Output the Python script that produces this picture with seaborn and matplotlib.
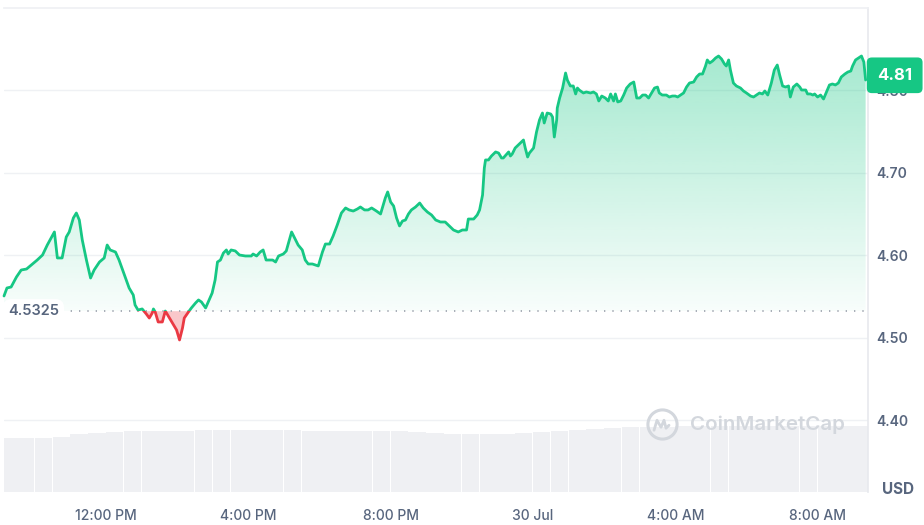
import numpy as np
import pandas as pd
import matplotlib
matplotlib.use("Agg")
import matplotlib.pyplot as plt
import matplotlib.dates as mdates
from matplotlib.path import Path
from matplotlib.patches import Rectangle
import seaborn as sns

# ---------------- data ----------------
start = pd.Timestamp("2024-07-29 09:00")
minutes = [8, 13, 20, 29, 37, 46, 54, 64, 73, 81, 93, 98, 106, 113, 118, 125, 130, 135, 140, 147,
           154, 160, 169, 177, 182, 187, 196, 202, 211, 219, 226, 229, 234, 241, 248, 253, 258, 260, 263, 268,
           275, 280, 287, 294, 299, 304, 309, 312, 319, 324, 331, 336, 341, 348, 354, 359, 364, 368, 373, 378,
           383, 386, 391, 398, 405, 415, 425, 428, 434, 440, 445, 450, 461, 466, 471, 479, 484, 493, 498, 504,
           511, 516, 521, 528, 533, 538, 545, 550, 557, 563, 570, 577, 584, 590, 597, 604, 609, 616, 622, 628,
           636, 643, 651, 655, 660, 665, 670, 675, 680, 685, 690, 695, 702, 709, 715, 722, 729, 736, 744, 752,
           759, 766, 774, 781, 788, 791, 800, 806, 810, 815, 818, 820, 825, 830, 837, 842, 847, 850, 859, 862,
           865, 870, 877, 884, 887, 891, 894, 901, 906, 911, 916, 919, 924, 930, 933, 936, 940, 941, 945, 950,
           955, 958, 963, 968, 972, 975, 978, 985, 990, 997, 1002, 1007, 1011, 1016, 1022, 1027, 1031, 1036, 1039, 1043,
           1048, 1053, 1058, 1064, 1070, 1075, 1080, 1085, 1090, 1095, 1100, 1105, 1110, 1113, 1118, 1125, 1130, 1135, 1140, 1144,
           1149, 1154, 1159, 1164, 1171, 1176, 1181, 1186, 1191, 1194, 1198, 1203, 1208, 1213, 1218, 1223, 1226, 1230, 1233, 1238,
           1243, 1250, 1255, 1260, 1267, 1272, 1277, 1282, 1287, 1291, 1296, 1302, 1307, 1312, 1316, 1321, 1326, 1331, 1334, 1339,
           1345, 1350, 1353, 1360, 1363, 1368, 1372, 1375, 1380, 1385, 1390, 1395, 1400, 1405, 1410, 1415, 1420, 1426, 1431, 1436,
           1439, 1444, 1449, 1454, 1458, 1461]
price = [4.5509, 4.5606, 4.5618, 4.5739, 4.5824, 4.5836, 4.5885, 4.5945, 4.6006, 4.6127, 4.6285, 4.5970, 4.5970, 4.6224, 4.6285, 4.6455, 4.6515, 4.6430, 4.6188, 4.5945,
         4.5727, 4.5824, 4.5921, 4.5970, 4.6127, 4.6067, 4.6042, 4.5945, 4.5764, 4.5606, 4.5521, 4.5400, 4.5339, 4.5352, 4.5291, 4.5242, 4.5303, 4.5352, 4.5315, 4.5194,
         4.5194, 4.5327, 4.5242, 4.5158, 4.5097, 4.4976, 4.5121, 4.5242, 4.5315, 4.5364, 4.5424, 4.5461, 4.5436, 4.5364, 4.5461, 4.5545, 4.5703, 4.5921, 4.5945, 4.6030,
         4.6067, 4.6018, 4.6067, 4.6055, 4.6006, 4.5994, 4.5994, 4.6018, 4.5994, 4.6042, 4.6067, 4.5945, 4.5945, 4.5921, 4.5994, 4.6018, 4.6055, 4.6285, 4.6212, 4.6127,
         4.6067, 4.5945, 4.5897, 4.5897, 4.5885, 4.5873, 4.6042, 4.6139, 4.6139, 4.6236, 4.6370, 4.6515, 4.6576, 4.6552, 4.6539, 4.6564, 4.6588, 4.6552, 4.6552, 4.6576,
         4.6539, 4.6503, 4.6697, 4.6770, 4.6648, 4.6600, 4.6455, 4.6358, 4.6418, 4.6430, 4.6503, 4.6552, 4.6588, 4.6636, 4.6576, 4.6527, 4.6491, 4.6430, 4.6406, 4.6406,
         4.6358, 4.6309, 4.6285, 4.6309, 4.6309, 4.6442, 4.6442, 4.6491, 4.6552, 4.6733, 4.7061, 4.7158, 4.7158, 4.7206, 4.7255, 4.7242, 4.7182, 4.7182, 4.7255, 4.7206,
         4.7230, 4.7303, 4.7352, 4.7400, 4.7303, 4.7194, 4.7242, 4.7303, 4.7497, 4.7642, 4.7727, 4.7606, 4.7727, 4.7715, 4.7679, 4.7436, 4.7642, 4.7788, 4.7909, 4.8030,
         4.8212, 4.8127, 4.8055, 4.8055, 4.7958, 4.8030, 4.8006, 4.7970, 4.7982, 4.7970, 4.7982, 4.7958, 4.7873, 4.7933, 4.7909, 4.7873, 4.7958, 4.7873, 4.7958, 4.7861,
         4.7873, 4.7945, 4.8030, 4.8079, 4.8103, 4.7909, 4.7909, 4.7945, 4.7945, 4.7909, 4.7970, 4.8030, 4.8042, 4.7970, 4.7945, 4.7945, 4.7921, 4.7933, 4.7933, 4.7921,
         4.7945, 4.7970, 4.8042, 4.8091, 4.8103, 4.8164, 4.8200, 4.8200, 4.8297, 4.8370, 4.8333, 4.8358, 4.8394, 4.8418, 4.8382, 4.8321, 4.8297, 4.8370, 4.8248, 4.8091,
         4.8055, 4.8030, 4.7994, 4.7970, 4.7933, 4.7921, 4.7945, 4.7970, 4.7958, 4.7994, 4.7945, 4.8091, 4.8248, 4.8309, 4.8188, 4.8055, 4.8042, 4.8055, 4.7921, 4.8042,
         4.8079, 4.8042, 4.8006, 4.8006, 4.7958, 4.7958, 4.7945, 4.7958, 4.7921, 4.7945, 4.7897, 4.7982, 4.8067, 4.8079, 4.8067, 4.8091, 4.8164, 4.8200, 4.8224, 4.8236,
         4.8297, 4.8370, 4.8394, 4.8418, 4.8345, 4.8127]
baseline = 4.5325
# 30-minute volume bins starting 09:00 (relative units)
volume = [54, 54, 54, 55, 58, 59, 60, 61, 61, 61, 61, 62, 62, 62, 62, 62, 62, 61, 61, 61,
          61, 61, 61, 60, 59, 58, 58, 58, 58, 59, 60, 61, 62, 63, 64, 65, 65, 65, 66, 66,
          66, 66, 66, 66, 66, 66, 66, 66, 66]
ytick_values = [4.40, 4.50, 4.60, 4.70, 4.80]
xtick_times = ["2024-07-29 12:00", "2024-07-29 16:00", "2024-07-29 20:00",
               "2024-07-30 00:00", "2024-07-30 04:00", "2024-07-30 08:00"]
xtick_labels = ["12:00 PM", "4:00 PM", "8:00 PM", "30 Jul", "4:00 AM", "8:00 AM"]

# ---------------- style ----------------
GREEN = "#16c784"
RED = "#ea3943"
TXT = "#58667e"
GRID = "#eff1f4"

sns.set_theme(style="white")
plt.rcParams["font.family"] = ["Inter", "DejaVu Sans"]

W, H = 924, 525
fig = plt.figure(figsize=(W / 100, H / 100), dpi=100)
ax = fig.add_axes([4 / W, 33 / H, 864 / W, 484 / H])
ax2 = ax.twinx()
ax.set_zorder(2)
ax2.set_zorder(1)
ax.patch.set_visible(False)

times = start + pd.to_timedelta(minutes, unit="min")
xnum = mdates.date2num(times)
p = np.array(price)
df = pd.DataFrame({"time": times, "price": p})

y_lo, y_hi = 4.3133, 4.90
x_lo, x_hi = xnum[0], xnum[-1] + 4 / 1440

# volume bars
vol_times = start + pd.to_timedelta(np.arange(len(volume)) * 30, unit="min")
ax2.bar(mdates.date2num(vol_times), volume, width=29.2 / 1440, align="edge",
        color="#eff0f3", linewidth=0)
ax2.set_ylim(0, max(volume) / 0.136)
ax2.set_yticks([])
for s in ax2.spines.values():
    s.set_visible(False)

# green gradient fill between line and baseline
poly = ax.fill_between(xnum, p, baseline, where=p >= baseline, interpolate=True,
                       facecolor="none", edgecolor="none")
cpath = Path.make_compound_path(*poly.get_paths())
g = np.array(matplotlib.colors.to_rgb(GREEN))
n = 256
rgba = np.zeros((n, 1, 4))
rgba[..., :3] = g
rgba[:, 0, 3] = np.linspace(0.03, 0.45, n)
im = ax.imshow(rgba, extent=[x_lo, x_hi, baseline, y_hi], origin="lower",
               aspect="auto", zorder=1, interpolation="bilinear")
im.set_clip_path(cpath, ax.transData)

# red fill below baseline
ax.fill_between(xnum, p, baseline, where=p < baseline, interpolate=True,
                color=RED, alpha=0.28, linewidth=0, zorder=1)

# price line (green above, red below baseline)
sns.lineplot(data=df, x="time", y="price", ax=ax, color=GREEN, lw=2.0,
             estimator=None, sort=False, zorder=3)
line_g = ax.lines[-1]
sns.lineplot(data=df, x="time", y="price", ax=ax, color=RED, lw=2.0,
             estimator=None, sort=False, zorder=3)
line_r = ax.lines[-1]
line_g.set_clip_path(Rectangle((x_lo - 1, baseline), 5, 5, transform=ax.transData))
line_r.set_clip_path(Rectangle((x_lo - 1, baseline - 5), 5, 5, transform=ax.transData))

# baseline dotted
ax.axhline(baseline, color="#9aa0ab", lw=1.2, ls=(0, (0.8, 4.2)), zorder=2)
ax.text(0.0046, baseline, f"{baseline:.4f}", transform=ax.get_yaxis_transform(),
        ha="left", va="center", fontsize=10.5, color=TXT, fontweight="semibold",
        bbox=dict(boxstyle="round,pad=0.35,rounding_size=0.6", fc="white", ec="none"),
        zorder=5)

# axes limits/ticks
ax.set_xlim(x_lo, x_hi)
ax.set_ylim(y_lo, y_hi)
ax.yaxis.tick_right()
ax.set_yticks(ytick_values)
ax.set_yticklabels([f"{v:.2f}" for v in ytick_values])
ax.set_xticks(mdates.date2num(pd.to_datetime(xtick_times)))
ax.set_xticklabels(xtick_labels)
ax.tick_params(axis="y", length=0, pad=6, labelsize=10, labelcolor=TXT)
ax.tick_params(axis="x", length=0, pad=12, labelsize=10, labelcolor=TXT)
for lab in ax.get_yticklabels():
    lab.set_fontweight("semibold")
for lab in ax.get_xticklabels():
    lab.set_fontweight("medium")
ax.set_xlabel("")
ax.set_ylabel("")
ax.grid(axis="y", color=GRID, lw=1)
ax.grid(axis="x", visible=False)
ax.spines["left"].set_visible(False)
ax.spines["bottom"].set_visible(False)
ax.spines["top"].set_color(GRID)
ax.spines["right"].set_color("#e8eaee")

# current price tag
ax.annotate(f"{price[-1]:.2f}", xy=(1.0, price[-1]), xycoords=ax.get_yaxis_transform(),
            xytext=(19.2, 3.4), textcoords="offset points", ha="center", va="center",
            fontsize=12, fontweight="bold", color="white", annotation_clip=False,
            bbox=dict(boxstyle="round,pad=0.62,rounding_size=0.3", fc=GREEN, ec="none"),
            zorder=10)

# watermark
wm = "#d3d7dd"
ax.plot([0.7616], [0.14], marker="o", ms=21, mfc="none", mec=wm, mew=2.2,
        transform=ax.transAxes, zorder=2, clip_on=False)
wx = np.array([-8, -5, -1, 2, 4, 7]) / 864 + 0.7616
wy = np.array([-6, 4, -3, 4, -4, -1]) / 484 + 0.14
ax.plot(wx, wy, color=wm, lw=2.0, transform=ax.transAxes, zorder=2,
        solid_joinstyle="round", solid_capstyle="round")
ax.text(0.794, 0.138, "CoinMarketCap", transform=ax.transAxes, ha="left", va="center",
        fontsize=14.8, color=wm, fontweight="semibold", zorder=2)

fig.text(898 / W, 1 - 489 / H, "USD", ha="center", va="center", fontsize=11,
         fontweight="bold", color=TXT)

fig.savefig("out.png", dpi=100)
